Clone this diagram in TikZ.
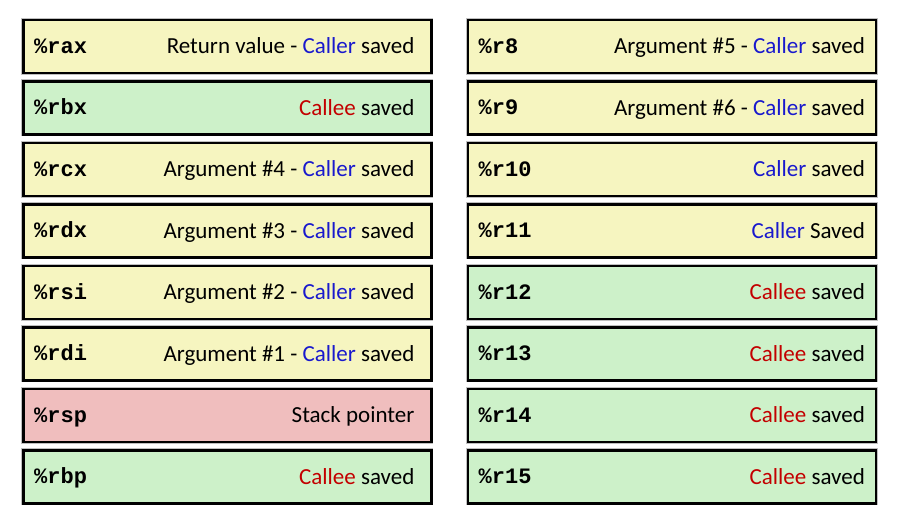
\documentclass[tikz,border=0pt]{standalone}
\usepackage{fontspec}
\setmainfont{Carlito}
\newfontfamily\regfont{Liberation Mono}[BoldFont={Liberation Mono Bold}]
\definecolor{callerbg}{RGB}{246,245,192}
\definecolor{calleebg}{RGB}{205,241,201}
\definecolor{stackbg}{RGB}{240,190,190}
\definecolor{callerfg}{RGB}{25,25,205}
\definecolor{calleefg}{RGB}{195,0,0}
\newcommand{\Caller}{\textcolor{callerfg}{Caller}}
\newcommand{\Callee}{\textcolor{calleefg}{Callee}}
\tikzset{
  regbox/.style={draw=black, line width=2.6pt, minimum width=408pt, minimum height=53pt,
    inner sep=0pt, anchor=north west,
    preaction={draw=black!25, line width=4.2pt}},
  callerrow/.style={regbox, fill=callerbg},
  calleerow/.style={regbox, fill=calleebg},
  stackrow/.style={regbox, fill=stackbg},
  regname/.style={font=\regfont\bfseries\fontsize{22}{24}\selectfont, anchor=base west, inner sep=0pt},
  regdesc/.style={font=\fontsize{23}{26}\selectfont, anchor=base east, inner sep=0pt}
}
\begin{document}
\begin{tikzpicture}[x=1pt,y=-1pt]
\useasboundingbox (0,0) rectangle (900,525);
\foreach \i/\nm/\reg/\sty/\desc in {
  0/rax/\%rax/callerrow/{Return value - \Caller{} saved},
  1/rbx/\%rbx/calleerow/{\Callee{} saved},
  2/rcx/\%rcx/callerrow/{Argument \#4 - \Caller{} saved},
  3/rdx/\%rdx/callerrow/{Argument \#3 - \Caller{} saved},
  4/rsi/\%rsi/callerrow/{Argument \#2 - \Caller{} saved},
  5/rdi/\%rdi/callerrow/{Argument \#1 - \Caller{} saved},
  6/rsp/\%rsp/stackrow/{Stack pointer},
  7/rbp/\%rbp/calleerow/{\Callee{} saved}} {
  \node[\sty] (\nm) at (22, 18.5+61.5*\i) {};
  \node[regname] (\nm-name) at ([xshift=12pt,yshift=-7pt]\nm.west) {\reg};
  \node[regdesc] (\nm-desc) at ([xshift=-18pt,yshift=-7.5pt]\nm.east) {\desc};
}
\foreach \i/\nm/\reg/\sty/\desc in {
  0/r8/\%r8/callerrow/{Argument \#5 - \Caller{} saved},
  1/r9/\%r9/callerrow/{Argument \#6 - \Caller{} saved},
  2/r10/\%r10/callerrow/{\Caller{} saved},
  3/r11/\%r11/callerrow/{\Caller{} Saved},
  4/r12/\%r12/calleerow/{\Callee{} saved},
  5/r13/\%r13/calleerow/{\Callee{} saved},
  6/r14/\%r14/calleerow/{\Callee{} saved},
  7/r15/\%r15/calleerow/{\Callee{} saved}} {
  \node[\sty] (\nm) at (466.5, 18.5+61.5*\i) {};
  \node[regname] (\nm-name) at ([xshift=12pt,yshift=-7pt]\nm.west) {\reg};
  \node[regdesc] (\nm-desc) at ([xshift=-12pt,yshift=-7.5pt]\nm.east) {\desc};
}
\end{tikzpicture}
\end{document}
